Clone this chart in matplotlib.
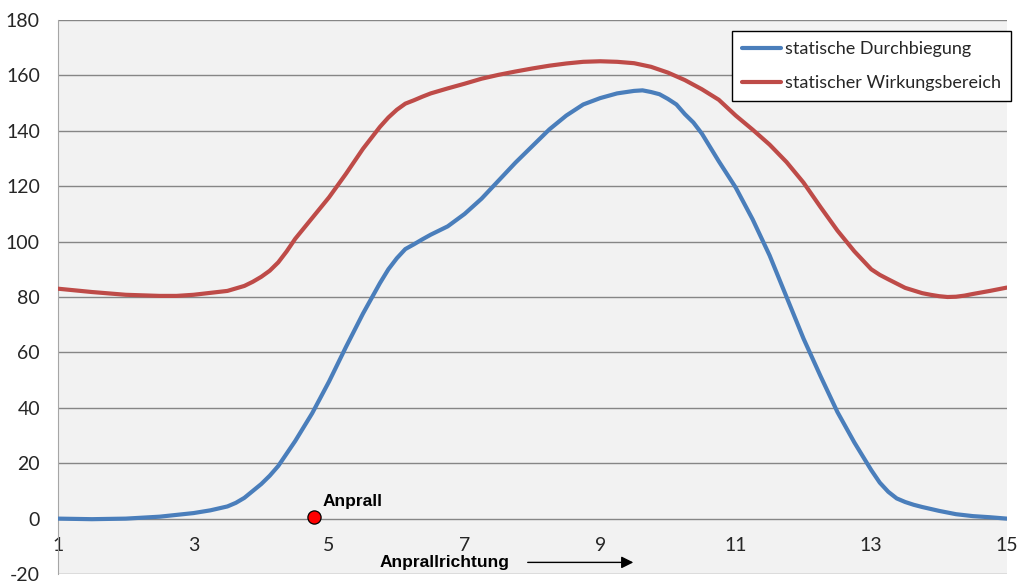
import matplotlib.pyplot as plt

# statische Durchbiegung (blue)
x_durch = [1.0, 1.5, 2.0, 2.5, 3.0, 3.25, 3.5, 3.625, 3.75, 3.875, 4.0, 4.125,
           4.25, 4.5, 4.75, 5.0, 5.25, 5.5, 5.75, 5.875, 6.0, 6.125, 6.25, 6.375,
           6.5, 6.75, 7.0, 7.25, 7.5, 7.75, 8.0, 8.25, 8.5, 8.75, 9.0, 9.25, 9.5,
           9.625, 9.75, 9.875, 10.0, 10.125, 10.25, 10.375, 10.5, 10.75,
           11.0, 11.25, 11.5, 11.75, 12.0, 12.25, 12.5, 12.75, 13.0, 13.125,
           13.25, 13.375, 13.5, 13.625, 13.75, 14.0, 14.25, 14.5, 14.75, 15.0]
y_durch = [0, -0.2, 0, 0.7, 2, 3, 4.4, 5.7, 7.5, 10, 12.5, 15.5,
           19, 28, 38, 49.5, 62, 74, 85, 90, 94, 97.3, 99, 100.8,
           102.5, 105.5, 110, 115.5, 122, 128.5, 134.5, 140.5, 145.5, 149.5, 151.8, 153.5, 154.4,
           154.6, 154, 153.2, 151.5, 149.5, 146, 143, 139, 129,
           119.5, 108, 95, 80, 65, 51.5, 38.5, 27.5, 17.5, 13,
           9.7, 7.3, 6, 5, 4.2, 2.8, 1.6, 0.9, 0.5, 0]

# statischer Wirkungsbereich (red)
x_wirk = [1.0, 1.5, 2.0, 2.5, 2.75, 3.0, 3.25, 3.5, 3.75, 3.875, 4.0, 4.125,
          4.25, 4.375, 4.5, 4.75, 5.0, 5.25, 5.5, 5.75, 5.875, 6.0, 6.125, 6.25,
          6.375, 6.5, 6.75, 7.0, 7.25, 7.5, 7.75, 8.0, 8.25, 8.5, 8.75, 9.0,
          9.25, 9.5, 9.75, 10.0, 10.25, 10.5, 10.75, 11.0, 11.25, 11.5, 11.75,
          12.0, 12.25, 12.5, 12.75, 13.0, 13.125, 13.25, 13.5, 13.75, 13.875,
          14.0, 14.125, 14.25, 14.375, 14.5, 14.75, 15.0]
y_wirk = [83, 81.8, 80.8, 80.4, 80.4, 80.8, 81.5, 82.2, 84, 85.5, 87.3, 89.5,
          92.5, 96.5, 101, 108.5, 116, 124.5, 133.5, 141.4, 144.8, 147.6, 149.8, 151,
          152.3, 153.5, 155.3, 157, 158.8, 160.2, 161.4, 162.5, 163.5, 164.3, 164.9, 165.1,
          164.9, 164.4, 163.1, 161, 158.3, 155, 151.2, 145.5, 140.4, 135, 128.7,
          121.3, 112.5, 104, 96.5, 90, 88, 86.4, 83.3, 81.4, 80.8,
          80.3, 80.0, 80.1, 80.5, 81.1, 82.2, 83.4]

anprall_x = 4.78
anprall_y = 0.5

x_ticks = [1, 3, 5, 7, 9, 11, 13, 15]
y_ticks = list(range(-20, 181, 20))

plt.rcParams['font.family'] = ['Lato', 'DejaVu Sans']

fig = plt.figure(figsize=(10.17, 5.81), dpi=100)
ax = fig.add_axes([0.057, 0.012, 0.933, 0.9536])
ax.set_facecolor("#F2F2F2")

ax.plot(x_durch, y_durch, color="#4A7EBB", lw=3, label="statische Durchbiegung",
        solid_capstyle="round", solid_joinstyle="round", zorder=3)
ax.plot(x_wirk, y_wirk, color="#BE4B48", lw=3, label="statischer Wirkungsbereich",
        solid_capstyle="round", solid_joinstyle="round", zorder=3)

# impact point
ax.plot([anprall_x], [anprall_y], "o", color="#FF0000", mec="black", mew=0.9,
        ms=9.5, zorder=5, clip_on=False)
ax.annotate("Anprall", (anprall_x, anprall_y), xytext=(6, 6),
            textcoords="offset points", fontsize=12.5, fontweight="bold",
            family="Liberation Sans", va="bottom", ha="left")

# direction of impact
ax.text(5.75, -15.8, "Anprallrichtung", fontsize=12.5, fontweight="bold",
        family="Liberation Sans", va="center", ha="left")
ax.annotate("", xy=(9.53, -15.8), xytext=(7.89, -15.8),
            arrowprops=dict(arrowstyle="-|>", color="black", lw=1,
                            mutation_scale=18))

ax.set_xlim(1, 15)
ax.set_ylim(-20, 180)
ax.set_xticks(x_ticks)
ax.set_yticks(y_ticks)
ax.set_yticklabels([str(v) for v in y_ticks])

ax.yaxis.grid(True, color="#868686", lw=1)
ax.set_axisbelow(True)

ax.spines[["right", "top"]].set_visible(False)
ax.spines["bottom"].set_position(("data", 0))
ax.spines["bottom"].set_visible(False)
ax.spines["left"].set_color("#A6A6A6")
ax.tick_params(axis="both", length=0, labelsize=14, colors="#262626")
ax.tick_params(axis="y", pad=13)
ax.tick_params(axis="x", pad=13)

leg = ax.legend(loc="upper right", bbox_to_anchor=(1011 / 1017, 1 - 31 / 581),
                bbox_transform=fig.transFigure, fontsize=13, frameon=True,
                fancybox=False, edgecolor="black", framealpha=1,
                handlelength=2.2, handletextpad=0.2, labelspacing=1.0,
                borderpad=0.55, borderaxespad=0)
leg.get_frame().set_linewidth(1)
for t in leg.get_texts():
    t.set_color("#262626")

fig.savefig("out.png", dpi=100)
